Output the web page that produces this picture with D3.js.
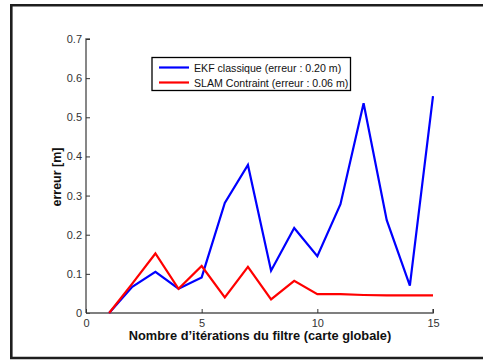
<!DOCTYPE html>
<html>
<head>
<meta charset="utf-8">
<script src="https://cdn.jsdelivr.net/npm/d3@7"></script>
<style>
  html, body { margin: 0; padding: 0; background: #fff; }
  svg { display: block; font-family: "Liberation Sans", Arial, Helvetica, sans-serif; }
</style>
</head>
<body>
<svg id="chart" width="483" height="360"></svg>
<script>
// Iteration index of the global-map filter
const iterations = [1, 2, 3, 4, 5, 6, 7, 8, 9, 10, 11, 12, 13, 14, 15];
// Position error (m) for each method
const ekfError  = [0, 0.067, 0.105, 0.062, 0.091, 0.281, 0.378, 0.108, 0.217, 0.145, 0.278, 0.536, 0.237, 0.070, 0.554];
const slamError = [0, 0.075, 0.152, 0.062, 0.120, 0.040, 0.118, 0.035, 0.082, 0.048, 0.048, 0.046, 0.045, 0.045, 0.045];
const seriesNames = ["EKF classique (erreur : 0.20 m)", "SLAM Contraint (erreur : 0.06 m)"];
const seriesColors = ["#0000ff", "#ff0000"];
const xTicks = [0, 5, 10, 15];
const yTicks = [0, 0.1, 0.2, 0.3, 0.4, 0.5, 0.6, 0.7];

const svg = d3.select("#chart");

// Outer figure border (top, left, bottom)
const frame = svg.append("g").attr("stroke", "#1e1e1e").attr("stroke-width", 2.6).attr("fill", "none");
frame.append("path").attr("d", "M483,5.3 H11.3 V358 H483");

const x = d3.scaleLinear().domain([0, 15]).range([86, 433]);
const y = d3.scaleLinear().domain([0, 0.7]).range([313, 39]);

// Y axis with inward ticks
const yAxis = svg.append("g")
  .attr("transform", `translate(${x(0)},0)`)
  .call(d3.axisRight(y).tickValues(yTicks).tickSize(4).tickFormat(d => d === 0 ? "0" : d3.format(".1f")(d)));
yAxis.select(".domain").attr("stroke", "#555").attr("stroke-width", 1.4).attr("d", `M4,${y(0.7)} H0 V${y(0)}`);
yAxis.selectAll(".tick line").attr("stroke", "#333");
yAxis.selectAll(".tick text")
  .attr("x", -4).attr("text-anchor", "end")
  .attr("fill", "#333").attr("font-size", 11);

// X axis with inward ticks
const xAxis = svg.append("g")
  .attr("transform", `translate(0,${y(0)})`)
  .call(d3.axisTop(x).tickValues(xTicks).tickSize(4).tickFormat(d3.format("d")));
xAxis.select(".domain").attr("stroke", "#555").attr("stroke-width", 1.4).attr("d", `M${x(0)},0 H${x(15)} V-4`);
xAxis.selectAll(".tick line").attr("stroke", "#333");
xAxis.selectAll(".tick text")
  .attr("y", 14).attr("dy", 0)
  .attr("fill", "#333").attr("font-size", 11);

// Axis titles
svg.append("text")
  .attr("x", 260).attr("y", 340)
  .attr("text-anchor", "middle").attr("font-weight", "bold").attr("font-size", 12.8)
  .attr("fill", "#111")
  .text("Nombre d’itérations du filtre (carte globale)");
svg.append("text")
  .attr("transform", "translate(61,177) rotate(-90)")
  .attr("text-anchor", "middle").attr("font-weight", "bold").attr("font-size", 12.5)
  .attr("fill", "#111")
  .text("erreur [m]");

// Series lines
const line = d3.line().x((d, i) => x(iterations[i])).y(d => y(d));
[ekfError, slamError].forEach((vals, k) => {
  svg.append("path")
    .datum(vals)
    .attr("fill", "none")
    .attr("stroke", seriesColors[k])
    .attr("stroke-width", 2.2)
    .attr("stroke-linejoin", "miter")
    .attr("d", line);
});

// Legend
const legend = svg.append("g");
legend.append("rect")
  .attr("x", 152).attr("y", 57.5).attr("width", 198.5).attr("height", 33)
  .attr("fill", "#fff").attr("stroke", "#000").attr("stroke-width", 1.3);
seriesNames.forEach((name, k) => {
  const ly = 67.5 + k * 15;
  legend.append("line")
    .attr("x1", 159).attr("x2", 189).attr("y1", ly).attr("y2", ly)
    .attr("stroke", seriesColors[k]).attr("stroke-width", 2.2);
  legend.append("text")
    .attr("x", 194).attr("y", ly + 4)
    .attr("font-size", 10.6).attr("fill", "#111")
    .text(name);
});
</script>
</body>
</html>
